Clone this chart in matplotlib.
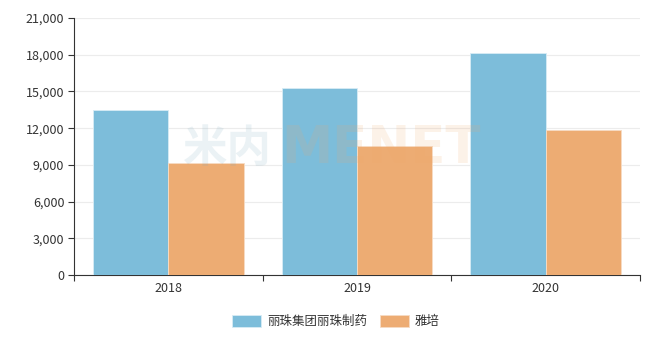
import numpy as np
import matplotlib
matplotlib.use("Agg")
import matplotlib.pyplot as plt
from matplotlib.ticker import FuncFormatter, MultipleLocator

plt.rcParams['font.family'] = ['Noto Sans CJK SC', 'DejaVu Sans']

years = ['2018', '2019', '2020']
lizhu = [13500, 15300, 18130]   # 丽珠集团丽珠制药
yapei = [9150, 10550, 11850]    # 雅培
names = ['丽珠集团丽珠制药', '雅培']
colors = ['#7dbdda', '#edac73']

fig = plt.figure(figsize=(6.72, 3.51), dpi=100)
ax = fig.add_axes([74/672, 76/351, 566/672, 257/351])

x = np.arange(len(years))
w = 0.4
ax.bar(x - w/2, lizhu, w, color=colors[0], edgecolor='#d8ecf5', linewidth=0.6, label=names[0], zorder=3)
ax.bar(x + w/2, yapei, w, color=colors[1], edgecolor='#f7dcc4', linewidth=0.6, label=names[1], zorder=3)

ax.set_xlim(-0.5, 2.5)
ax.set_ylim(0, 21000)
ax.yaxis.set_major_locator(MultipleLocator(3000))
ax.yaxis.set_major_formatter(FuncFormatter(lambda v, p: f'{int(v):,}'))
ax.grid(axis='y', color='#ececec', linewidth=0.8, zorder=0)

# x ticks at category boundaries, labels at centres
ax.set_xticks([-0.5, 0.5, 1.5, 2.5])
ax.set_xticklabels([])
ax.set_xticks(x, minor=True)
ax.set_xticklabels(years, minor=True)
ax.tick_params(axis='x', which='minor', length=0, pad=5, labelsize=9, labelcolor='#333333')
ax.tick_params(axis='x', which='major', length=4, color='#333333')
ax.tick_params(axis='y', length=4, color='#333333', labelsize=9, labelcolor='#333333', pad=3)

for s in ['top', 'right']:
    ax.spines[s].set_visible(False)
for s in ['left', 'bottom']:
    ax.spines[s].set_color('#333333')
    ax.spines[s].set_linewidth(0.8)

# faint watermark
fig.text(0.272, 0.575, '米内', fontsize=32, fontweight='bold', color='#7aa9bd', alpha=0.15,
         ha='left', va='center', zorder=10)
fig.text(0.418, 0.575, 'MENET', fontsize=37, fontweight='bold', color='#f0a868', alpha=0.15,
         ha='left', va='center', zorder=10, family='DejaVu Sans')

leg = fig.legend(loc='center', bbox_to_anchor=(0.5, 0.085), ncol=2, frameon=False,
                 fontsize=9, handlelength=2.3, handleheight=1.1, columnspacing=1.0,
                 handletextpad=0.5)
for t in leg.get_texts():
    t.set_color('#333333')

fig.savefig('out.png', dpi=100)
